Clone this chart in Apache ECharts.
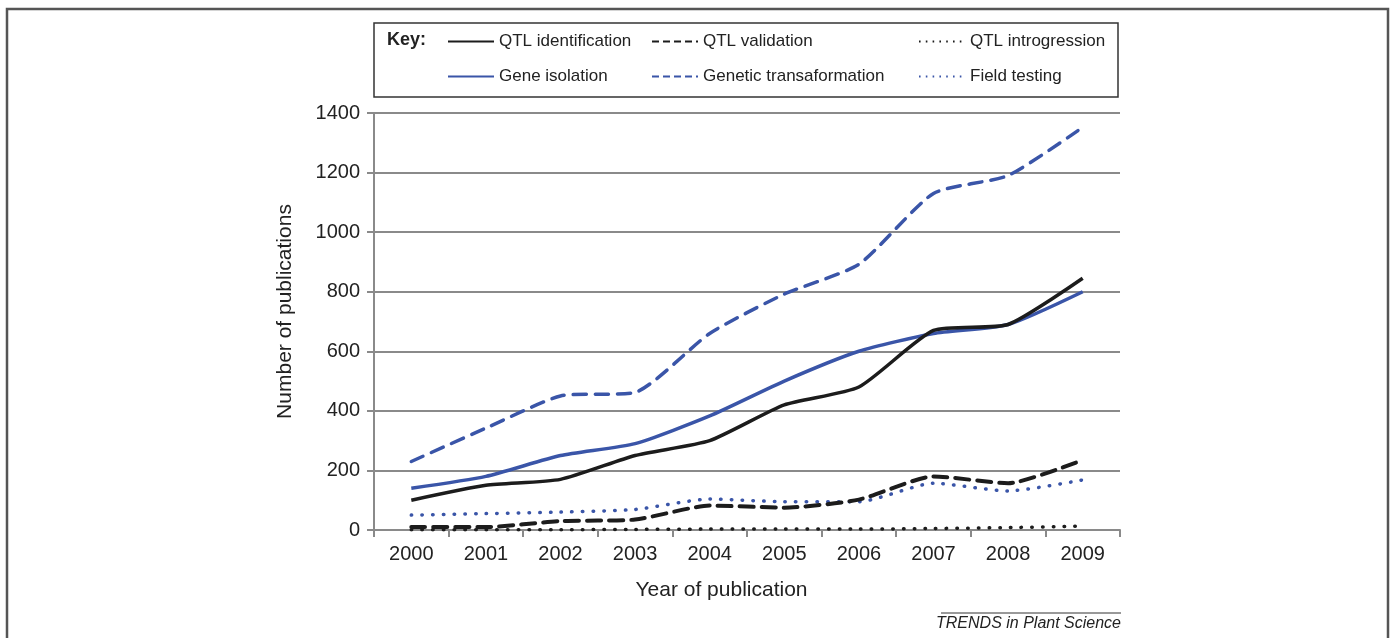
<!DOCTYPE html>
<html>
<head>
<meta charset="utf-8">
<script src="https://cdn.jsdelivr.net/npm/echarts@6/dist/echarts.min.js"></script>
<style>
  html, body { margin: 0; padding: 0; background: #fff; }
  #main { width: 1390px; height: 638px; }
</style>
</head>
<body>
<div id="main"></div>
<script>
// values
var years = ['2000', '2001', '2002', '2003', '2004', '2005', '2006', '2007', '2008', '2009'];
var qtlIdentification = [100, 150, 170, 250, 300, 420, 480, 670, 690, 845];
var qtlValidation = [10, 10, 30, 35, 82, 75, 102, 180, 157, 235];
var qtlIntrogression = [1, 1, 1, 2, 3, 3, 3, 5, 8, 13];
var geneIsolation = [140, 180, 250, 290, 383, 500, 600, 660, 690, 800];
var geneticTransformation = [230, 342, 450, 462, 660, 792, 892, 1130, 1190, 1352];
var fieldTesting = [50, 55, 60, 69, 104, 95, 95, 157, 131, 168];

var FONT = "'Liberation Sans', Arial, sans-serif";
var BLACK = '#1c1c1c';
var BLUE = '#3a55a8';

function mkSeries(name, data, color, dash, width) {
	return {
		name: name,
		type: 'line',
		data: data,
		symbol: 'none',
		smooth: 0.2,
		lineStyle: { color: color, width: width, type: dash, cap: dash === 'solid' ? 'butt' : 'round' },
		itemStyle: { color: color }
	};
}

// key entries get a finer dash than the plotted lines
function keyItem(name, dash) {
	return { name: name, lineStyle: { type: dash, width: 2, cap: 'butt' } };
}

function mkLegend(items, left) {
	return {
		data: items,
		orient: 'vertical',
		left: left,
		top: 33,
		padding: 0,
		itemWidth: 46,
		itemHeight: 16,
		itemGap: 18,
		itemStyle: { opacity: 0 },
		textStyle: { fontSize: 17, color: '#222', fontFamily: FONT },
		selectedMode: false
	};
}

var chart = echarts.init(document.getElementById('main'));

var option = {
	backgroundColor: '#fff',
	animation: false,
	textStyle: { fontFamily: FONT },
	legend: [
		mkLegend([keyItem('QTL identification', 'solid'), keyItem('Gene isolation', 'solid')], 447),
		mkLegend([keyItem('QTL validation', [7, 4]), keyItem('Genetic transaformation', [7, 4])], 651),
		mkLegend([keyItem('QTL introgression', [1.6, 5.2]), keyItem('Field testing', [1.6, 5.2])], 918)
	],
	grid: { left: 374, top: 113, width: 746, height: 417 },
	xAxis: {
		type: 'category',
		data: years,
		boundaryGap: true,
		name: 'Year of publication',
		nameLocation: 'middle',
		nameGap: 50,
		nameTextStyle: { fontSize: 21, color: '#222', padding: [0, 51, 0, 0] },
		axisLine: { lineStyle: { color: '#8a8a8a', width: 2 } },
		axisTick: { show: true, length: 7, lineStyle: { color: '#8a8a8a', width: 2 } },
		axisLabel: { fontSize: 20, color: '#222', margin: 14 }
	},
	yAxis: {
		type: 'value',
		min: 0,
		max: 1400,
		interval: 200,
		name: 'Number of publications',
		nameLocation: 'middle',
		nameGap: 78,
		nameTextStyle: { fontSize: 21, color: '#222', padding: [0, 0, 0, 20] },
		axisLine: { show: true, lineStyle: { color: '#8a8a8a', width: 2 } },
		axisTick: { show: true, length: 7, lineStyle: { color: '#8a8a8a', width: 2 } },
		axisLabel: { fontSize: 20, color: '#222', margin: 14, formatter: function (v) { return String(v); } },
		splitLine: { lineStyle: { color: '#8a8a8a', width: 2 } }
	},
	series: [
		mkSeries('Gene isolation', geneIsolation, BLUE, 'solid', 3.5),
		mkSeries('Genetic transaformation', geneticTransformation, BLUE, [13, 9], 3.5),
		mkSeries('Field testing', fieldTesting, BLUE, [0.5, 10.2], 3.5),
		mkSeries('QTL identification', qtlIdentification, BLACK, 'solid', 3.5),
		mkSeries('QTL validation', qtlValidation, BLACK, [14, 8], 4),
		mkSeries('QTL introgression', qtlIntrogression, BLACK, [0.5, 10.2], 3.5)
	],
	graphic: [
		// outer frame of the figure
		{ type: 'rect', shape: { x: 7, y: 9, width: 1381, height: 650 },
		  style: { fill: null, stroke: '#555', lineWidth: 2.5 }, silent: true },
		// key box
		{ type: 'rect', shape: { x: 374, y: 23, width: 744, height: 74 },
		  style: { fill: null, stroke: '#333', lineWidth: 1.5 }, silent: true },
		{ type: 'text', left: 387, top: 31,
		  style: { text: 'Key:', font: 'bold 18px ' + FONT, fill: '#222' } },
		// journal tag
		{ type: 'line', shape: { x1: 941, y1: 613, x2: 1121, y2: 613 },
		  style: { stroke: '#333', lineWidth: 1 } },
		{ type: 'text', right: 269, top: 616,
		  style: { text: 'TRENDS in Plant Science', font: 'italic 16px ' + FONT, fill: '#222' } }
	]
};

chart.setOption(option);
</script>
</body>
</html>
